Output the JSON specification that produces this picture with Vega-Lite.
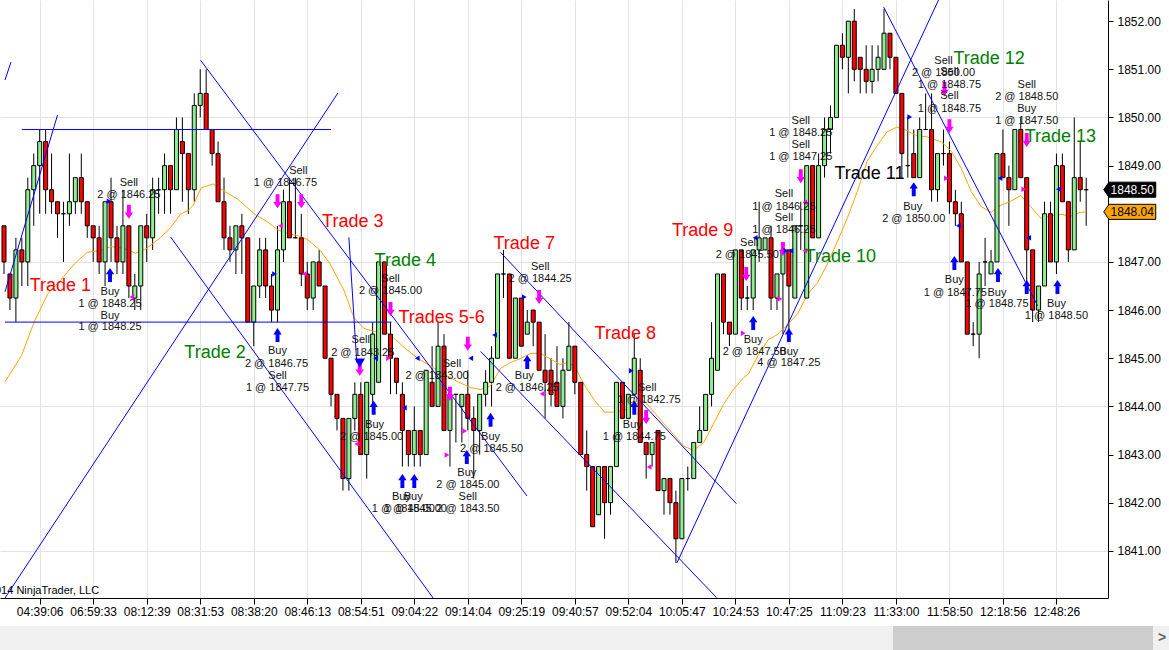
{
"$schema":"https://vega.github.io/schema/vega-lite/v6.json",
"padding":0,
"spacing":9,
"background":"white",
"config":{"view":{"stroke":null},"font":"Liberation Sans"},
"datasets":{
"candles":[
{"i":0,"o":1847.75,"h":1847.75,"l":1846.75,"c":1847},
{"i":1,"o":1846.75,"h":1846.75,"l":1846,"c":1846.25},
{"i":2,"o":1846.25,"h":1847.5,"l":1845.75,"c":1847.25},
{"i":3,"o":1847.25,"h":1847.5,"l":1846.5,"c":1847},
{"i":4,"o":1847,"h":1848.75,"l":1846.5,"c":1848.5},
{"i":5,"o":1848.5,"h":1849.25,"l":1847.75,"c":1849},
{"i":6,"o":1849,"h":1849.75,"l":1848,"c":1849.5},
{"i":7,"o":1849.5,"h":1849.75,"l":1848,"c":1848.5},
{"i":8,"o":1848.5,"h":1849.25,"l":1848,"c":1848.25},
{"i":9,"o":1848.25,"h":1848.25,"l":1847.5,"c":1848},
{"i":10,"o":1848,"h":1848.25,"l":1847,"c":1848},
{"i":11,"o":1848,"h":1849.25,"l":1847.75,"c":1848.25},
{"i":12,"o":1848.25,"h":1848.75,"l":1848,"c":1848.75},
{"i":13,"o":1848.75,"h":1849.25,"l":1848,"c":1848.25},
{"i":14,"o":1848.25,"h":1848.25,"l":1847.5,"c":1847.75},
{"i":15,"o":1847.75,"h":1847.75,"l":1847,"c":1847.5},
{"i":16,"o":1847.5,"h":1847.75,"l":1846.75,"c":1847},
{"i":17,"o":1847,"h":1848.25,"l":1846.5,"c":1848.25},
{"i":18,"o":1848.25,"h":1848.75,"l":1847,"c":1847.5},
{"i":19,"o":1847.5,"h":1847.75,"l":1846.75,"c":1847},
{"i":20,"o":1847,"h":1848.5,"l":1846.75,"c":1847.75},
{"i":21,"o":1847.75,"h":1847.75,"l":1846.25,"c":1846.5},
{"i":22,"o":1846.25,"h":1846.75,"l":1846,"c":1846.5},
{"i":23,"o":1846.5,"h":1847.75,"l":1846,"c":1847.75},
{"i":24,"o":1847.75,"h":1848,"l":1847,"c":1847.5},
{"i":25,"o":1847.5,"h":1848.75,"l":1847.25,"c":1848.5},
{"i":26,"o":1848.5,"h":1848.75,"l":1848,"c":1848.5},
{"i":27,"o":1848.5,"h":1849.25,"l":1848,"c":1849},
{"i":28,"o":1849,"h":1849,"l":1848,"c":1848.5},
{"i":29,"o":1848.5,"h":1850,"l":1848.5,"c":1849.75},
{"i":30,"o":1849.5,"h":1850,"l":1848.25,"c":1849.25},
{"i":31,"o":1849.25,"h":1849.25,"l":1848,"c":1848.5},
{"i":32,"o":1848.5,"h":1850.5,"l":1848.25,"c":1850.25},
{"i":33,"o":1850.25,"h":1851,"l":1850,"c":1850.5},
{"i":34,"o":1850.5,"h":1851,"l":1849.75,"c":1849.75},
{"i":35,"o":1849.75,"h":1849.75,"l":1849,"c":1849.25},
{"i":36,"o":1849.25,"h":1849.5,"l":1848.25,"c":1848.25},
{"i":37,"o":1848.25,"h":1848.75,"l":1847.25,"c":1847.5},
{"i":38,"o":1847.5,"h":1847.75,"l":1847,"c":1847.25},
{"i":39,"o":1847.25,"h":1847.75,"l":1846.75,"c":1847.75},
{"i":40,"o":1847.75,"h":1848,"l":1846.75,"c":1847.5},
{"i":41,"o":1847.5,"h":1847.5,"l":1845.75,"c":1845.75},
{"i":42,"o":1845.75,"h":1846.5,"l":1845.25,"c":1846.5},
{"i":43,"o":1846.5,"h":1847.5,"l":1846.25,"c":1847.25},
{"i":44,"o":1847.25,"h":1847.5,"l":1846.25,"c":1846.5},
{"i":45,"o":1846.5,"h":1846.75,"l":1845.75,"c":1846},
{"i":46,"o":1846,"h":1847.75,"l":1845.75,"c":1847.25},
{"i":47,"o":1847.25,"h":1848.5,"l":1847,"c":1848.25},
{"i":48,"o":1848.25,"h":1848.75,"l":1847.5,"c":1847.5},
{"i":49,"o":1847.5,"h":1848.75,"l":1847.5,"c":1847.5},
{"i":50,"o":1847.5,"h":1848,"l":1846.5,"c":1846.75},
{"i":51,"o":1846.75,"h":1847,"l":1846,"c":1846.25},
{"i":52,"o":1846.25,"h":1847,"l":1846,"c":1847},
{"i":53,"o":1847,"h":1847.25,"l":1846.5,"c":1846.5},
{"i":54,"o":1846.5,"h":1846.5,"l":1845,"c":1845},
{"i":55,"o":1845,"h":1845,"l":1844,"c":1844.25},
{"i":56,"o":1844.25,"h":1844.25,"l":1843.5,"c":1843.75},
{"i":57,"o":1843.75,"h":1843.75,"l":1842.25,"c":1842.5},
{"i":58,"o":1842.5,"h":1843.75,"l":1842.25,"c":1843.75},
{"i":59,"o":1843.75,"h":1844.5,"l":1843.5,"c":1844.25},
{"i":60,"o":1844.25,"h":1844.5,"l":1843,"c":1843},
{"i":61,"o":1843,"h":1844.5,"l":1842.5,"c":1844.5},
{"i":62,"o":1844.25,"h":1845.75,"l":1844,"c":1845.5},
{"i":63,"o":1844.5,"h":1847,"l":1844.5,"c":1847},
{"i":64,"o":1847,"h":1847,"l":1845.5,"c":1845.5},
{"i":65,"o":1845.5,"h":1845.75,"l":1844.25,"c":1845},
{"i":66,"o":1845,"h":1845,"l":1844.25,"c":1844.5},
{"i":67,"o":1844.25,"h":1844.5,"l":1842.75,"c":1843.5},
{"i":68,"o":1843.5,"h":1843.5,"l":1842.75,"c":1843},
{"i":69,"o":1843,"h":1844,"l":1842.75,"c":1843.5},
{"i":70,"o":1843.5,"h":1843.5,"l":1842.75,"c":1843},
{"i":71,"o":1843,"h":1844.75,"l":1843,"c":1844.75},
{"i":72,"o":1844.5,"h":1845.25,"l":1844,"c":1844},
{"i":73,"o":1844,"h":1845.75,"l":1844,"c":1845.25},
{"i":74,"o":1845.25,"h":1845.5,"l":1843.5,"c":1843.5},
{"i":75,"o":1843.5,"h":1844.25,"l":1842.75,"c":1844.25},
{"i":76,"o":1844.25,"h":1844.25,"l":1843.25,"c":1844.25},
{"i":77,"o":1844,"h":1844.25,"l":1843.25,"c":1844.25},
{"i":78,"o":1844.25,"h":1844.75,"l":1843.5,"c":1843.75},
{"i":79,"o":1843.75,"h":1844,"l":1842.5,"c":1843.5},
{"i":80,"o":1843.5,"h":1844.25,"l":1843,"c":1844.25},
{"i":81,"o":1844.25,"h":1844.75,"l":1844,"c":1844.5},
{"i":82,"o":1844.5,"h":1845.25,"l":1844,"c":1845},
{"i":83,"o":1845,"h":1846.75,"l":1845,"c":1846.75},
{"i":84,"o":1846.75,"h":1847.25,"l":1846.25,"c":1846.75},
{"i":85,"o":1846.75,"h":1846.75,"l":1845,"c":1845},
{"i":86,"o":1845,"h":1846.25,"l":1845,"c":1846.25},
{"i":87,"o":1846.25,"h":1846.25,"l":1845.25,"c":1845.25},
{"i":88,"o":1845.5,"h":1846,"l":1845.5,"c":1845.75},
{"i":89,"o":1846,"h":1846,"l":1845.25,"c":1845.75},
{"i":90,"o":1845.75,"h":1845.75,"l":1844.75,"c":1844.75},
{"i":91,"o":1844.75,"h":1845.5,"l":1843.75,"c":1844.5},
{"i":92,"o":1844.75,"h":1845,"l":1844,"c":1844.25},
{"i":93,"o":1844.5,"h":1845.25,"l":1844,"c":1844},
{"i":94,"o":1844,"h":1845,"l":1843.75,"c":1844.75},
{"i":95,"o":1844.75,"h":1845.75,"l":1844.75,"c":1845.25},
{"i":96,"o":1845.25,"h":1845.25,"l":1844.25,"c":1844.5},
{"i":97,"o":1844.5,"h":1844.5,"l":1843,"c":1843},
{"i":98,"o":1843,"h":1843.5,"l":1842.25,"c":1842.75},
{"i":99,"o":1842.75,"h":1842.75,"l":1841.5,"c":1841.5},
{"i":100,"o":1841.75,"h":1842.75,"l":1841.75,"c":1842.75},
{"i":101,"o":1842.75,"h":1842.75,"l":1841.25,"c":1842},
{"i":102,"o":1842,"h":1842.75,"l":1841.75,"c":1842.75},
{"i":103,"o":1842.75,"h":1844.5,"l":1842.75,"c":1844.5},
{"i":104,"o":1844.5,"h":1844.5,"l":1843.75,"c":1843.75},
{"i":105,"o":1843.75,"h":1844.25,"l":1843.75,"c":1844.25},
{"i":106,"o":1844.25,"h":1845.5,"l":1844.25,"c":1845},
{"i":107,"o":1844.75,"h":1845,"l":1843.25,"c":1843.25},
{"i":108,"o":1843.25,"h":1843.25,"l":1842.5,"c":1843},
{"i":109,"o":1843,"h":1843.25,"l":1842.75,"c":1843.25},
{"i":110,"o":1843.5,"h":1843.5,"l":1842.25,"c":1842.25},
{"i":111,"o":1842.25,"h":1842.5,"l":1841.75,"c":1842.5},
{"i":112,"o":1842.5,"h":1842.5,"l":1841.75,"c":1842},
{"i":113,"o":1842,"h":1842.25,"l":1840.75,"c":1841.25},
{"i":114,"o":1841.25,"h":1842.5,"l":1841.25,"c":1842.5},
{"i":115,"o":1842.5,"h":1842.75,"l":1842.25,"c":1842.5},
{"i":116,"o":1842.5,"h":1843.25,"l":1842.5,"c":1843.25},
{"i":117,"o":1843.25,"h":1844,"l":1843.25,"c":1843.5},
{"i":118,"o":1843.5,"h":1844.25,"l":1843.5,"c":1844.25},
{"i":119,"o":1844.25,"h":1845.75,"l":1844,"c":1845},
{"i":120,"o":1844.75,"h":1846.75,"l":1844.75,"c":1846.75},
{"i":121,"o":1846.75,"h":1846.75,"l":1845.5,"c":1845.75},
{"i":122,"o":1845.75,"h":1845.75,"l":1845.25,"c":1845.5},
{"i":123,"o":1845.5,"h":1847.25,"l":1845.5,"c":1847.25},
{"i":124,"o":1847.25,"h":1847.25,"l":1846,"c":1846.25},
{"i":125,"o":1846.25,"h":1846.5,"l":1846,"c":1846.25},
{"i":126,"o":1846.25,"h":1847.25,"l":1846,"c":1847.25},
{"i":127,"o":1847.25,"h":1848.25,"l":1847,"c":1847.5},
{"i":128,"o":1847.25,"h":1847.5,"l":1847.25,"c":1847.5},
{"i":129,"o":1847.5,"h":1847.75,"l":1846,"c":1846.25},
{"i":130,"o":1846.25,"h":1846.75,"l":1846,"c":1846.75},
{"i":131,"o":1846.75,"h":1847.25,"l":1845.5,"c":1847.25},
{"i":132,"o":1847.25,"h":1847.25,"l":1845.5,"c":1846.5},
{"i":133,"o":1846.25,"h":1847.75,"l":1846.25,"c":1847.75},
{"i":134,"o":1847.75,"h":1848.25,"l":1847.25,"c":1847.75},
{"i":135,"o":1846.25,"h":1849,"l":1846.25,"c":1849},
{"i":136,"o":1849,"h":1849,"l":1847.5,"c":1847.5},
{"i":137,"o":1847.5,"h":1849.25,"l":1847.5,"c":1849},
{"i":138,"o":1849,"h":1850,"l":1848.75,"c":1849.75},
{"i":139,"o":1849.75,"h":1850.25,"l":1849.25,"c":1850},
{"i":140,"o":1850,"h":1851.5,"l":1850,"c":1851.5},
{"i":141,"o":1851.5,"h":1851.75,"l":1851,"c":1851.25},
{"i":142,"o":1851.25,"h":1852,"l":1850.5,"c":1852},
{"i":143,"o":1852,"h":1852.25,"l":1850.75,"c":1851},
{"i":144,"o":1851.25,"h":1851.25,"l":1850.5,"c":1851},
{"i":145,"o":1851,"h":1851.5,"l":1850.5,"c":1850.75},
{"i":146,"o":1850.75,"h":1851.5,"l":1850.5,"c":1851},
{"i":147,"o":1851,"h":1851.5,"l":1850.75,"c":1851.25},
{"i":148,"o":1851,"h":1852.25,"l":1851,"c":1851.75},
{"i":149,"o":1851.75,"h":1851.75,"l":1851,"c":1851.25},
{"i":150,"o":1851.25,"h":1851.25,"l":1850.5,"c":1850.5},
{"i":151,"o":1850.5,"h":1850.5,"l":1848.75,"c":1849.25},
{"i":152,"o":1849,"h":1850,"l":1848.75,"c":1849},
{"i":153,"o":1849.25,"h":1849.75,"l":1848.75,"c":1848.75},
{"i":154,"o":1848.75,"h":1850,"l":1848.75,"c":1849.75},
{"i":155,"o":1849.75,"h":1850.5,"l":1849.75,"c":1849.75},
{"i":156,"o":1849.75,"h":1850.5,"l":1848.25,"c":1848.5},
{"i":157,"o":1848.5,"h":1849.25,"l":1848.25,"c":1849.25},
{"i":158,"o":1849.25,"h":1849.75,"l":1849,"c":1849.25},
{"i":159,"o":1849.25,"h":1849.5,"l":1848,"c":1848.25},
{"i":160,"o":1848.25,"h":1848.5,"l":1847.75,"c":1848},
{"i":161,"o":1848,"h":1848.25,"l":1847,"c":1847},
{"i":162,"o":1847,"h":1847,"l":1845.5,"c":1845.5},
{"i":163,"o":1845.5,"h":1845.75,"l":1845.25,"c":1845.5},
{"i":164,"o":1845.5,"h":1847,"l":1845,"c":1846.75},
{"i":165,"o":1847,"h":1847.5,"l":1846.5,"c":1847},
{"i":166,"o":1846.75,"h":1847.25,"l":1846.75,"c":1847},
{"i":167,"o":1847,"h":1849.25,"l":1847,"c":1849.25},
{"i":168,"o":1849.25,"h":1849.75,"l":1848.75,"c":1848.75},
{"i":169,"o":1848.75,"h":1849,"l":1847.75,"c":1848.5},
{"i":170,"o":1848.5,"h":1849.75,"l":1848.5,"c":1849.75},
{"i":171,"o":1849.75,"h":1850,"l":1848.75,"c":1848.75},
{"i":172,"o":1848.75,"h":1848.75,"l":1846.5,"c":1847.25},
{"i":173,"o":1847.25,"h":1847.25,"l":1845.75,"c":1846},
{"i":174,"o":1846,"h":1846.5,"l":1845.75,"c":1846.5},
{"i":175,"o":1846.5,"h":1848.25,"l":1846.5,"c":1848},
{"i":176,"o":1848,"h":1848.25,"l":1847,"c":1847},
{"i":177,"o":1847,"h":1849.25,"l":1846.75,"c":1849},
{"i":178,"o":1849,"h":1849.25,"l":1848.25,"c":1848.25},
{"i":179,"o":1848.25,"h":1848.25,"l":1847,"c":1847.25},
{"i":180,"o":1847.25,"h":1850,"l":1847.25,"c":1848.75},
{"i":181,"o":1848.75,"h":1849.5,"l":1848.25,"c":1848.5},
{"i":182,"o":1848.5,"h":1848.75,"l":1847.75,"c":1848.5}
],
"ma":[
{"i":0.17,"m":1844.51},{"i":2.95,"m":1845.06},{"i":5.17,"m":1845.78},{"i":7.33,"m":1846.33},{"i":9.67,"m":1846.64},{"i":11.83,"m":1846.96},{"i":14,"m":1847.2},{"i":16.33,"m":1847.24},{"i":18,"m":1847.32},{"i":20.17,"m":1847.28},{"i":22.17,"m":1847.18},{"i":24,"m":1847.28},{"i":26.33,"m":1847.51},{"i":28,"m":1847.71},{"i":29.67,"m":1847.99},{"i":31,"m":1848.07},{"i":31.83,"m":1848.18},{"i":33.17,"m":1848.54},{"i":35.17,"m":1848.62},{"i":37.17,"m":1848.46},{"i":39.33,"m":1848.3},{"i":42.17,"m":1847.99},{"i":44.33,"m":1847.83},{"i":46,"m":1847.67},{"i":47.67,"m":1847.59},{"i":49.33,"m":1847.55},{"i":51,"m":1847.47},{"i":53.17,"m":1847.24},{"i":54.83,"m":1846.96},{"i":57.17,"m":1846.41},{"i":58.83,"m":1845.85},{"i":60.5,"m":1845.62},{"i":62.67,"m":1845.54},{"i":63.5,"m":1845.62},{"i":65.17,"m":1845.46},{"i":67.33,"m":1845.22},{"i":69.67,"m":1844.99},{"i":71.83,"m":1844.83},{"i":74,"m":1844.67},{"i":76.33,"m":1844.51},{"i":78.5,"m":1844.39},{"i":80.17,"m":1844.35},{"i":81.83,"m":1844.43},{"i":83.5,"m":1844.79},{"i":85.17,"m":1844.91},{"i":86.83,"m":1844.99},{"i":88.5,"m":1845.1},{"i":90.17,"m":1845.1},{"i":91.83,"m":1844.99},{"i":93.5,"m":1844.87},{"i":94.83,"m":1844.91},{"i":96,"m":1844.83},{"i":97.67,"m":1844.43},{"i":99.33,"m":1844.12},{"i":101,"m":1843.88},{"i":102.67,"m":1843.88},{"i":104.33,"m":1843.92},{"i":106,"m":1844.04},{"i":107.67,"m":1844.12},{"i":109.33,"m":1843.88},{"i":111,"m":1843.64},{"i":112.67,"m":1843.41},{"i":114.33,"m":1843.17},{"i":116,"m":1843.09},{"i":117.67,"m":1843.25},{"i":119.33,"m":1843.64},{"i":121,"m":1844.04},{"i":122.67,"m":1844.35},{"i":124.33,"m":1844.59},{"i":125.17,"m":1844.67},{"i":126.83,"m":1845.06},{"i":128.5,"m":1845.38},{"i":130.17,"m":1845.5},{"i":131.83,"m":1845.7},{"i":133.5,"m":1845.93},{"i":135.17,"m":1846.33},{"i":136.83,"m":1846.57},{"i":138.5,"m":1846.96},{"i":140.17,"m":1847.43},{"i":141.83,"m":1847.91},{"i":143.5,"m":1848.46},{"i":145.17,"m":1849.09},{"i":146.83,"m":1849.41},{"i":148.5,"m":1849.7},{"i":150.17,"m":1849.8},{"i":151.83,"m":1849.73},{"i":153.5,"m":1849.62},{"i":155.17,"m":1849.6},{"i":157.67,"m":1849.49},{"i":159.33,"m":1849.3},{"i":161,"m":1848.94},{"i":162.67,"m":1848.46},{"i":164.33,"m":1848.15},{"i":166,"m":1848.03},{"i":167.67,"m":1848.18},{"i":169.33,"m":1848.26},{"i":171,"m":1848.38},{"i":172.67,"m":1848.15},{"i":174.33,"m":1847.91},{"i":176,"m":1847.95},{"i":177.67,"m":1847.99},{"i":179.33,"m":1847.95},{"i":181,"m":1848.03},{"i":182,"m":1848.04}
],
"lines":[
{"i1":0.17,"p1":1850.78,"i2":1.17,"p2":1851.15},
{"i1":0.17,"p1":1846.38,"i2":9.0,"p2":1850.05},
{"i1":3.0,"p1":1849.75,"i2":55.0,"p2":1849.75},
{"i1":0.17,"p1":1845.75,"i2":65.17,"p2":1845.75},
{"i1":0.17,"p1":1840.02,"i2":56.17,"p2":1850.51},
{"i1":33.05,"p1":1851.19,"i2":87.95,"p2":1842.14},
{"i1":28.0,"p1":1847.52,"i2":72.17,"p2":1840.02},
{"i1":58.0,"p1":1847.51,"i2":59.33,"p2":1844.91},
{"i1":80.17,"p1":1845.14,"i2":119.83,"p2":1840.03},
{"i1":83.5,"p1":1847.2,"i2":123.17,"p2":1841.98},
{"i1":113.17,"p1":1840.75,"i2":157.17,"p2":1852.44},
{"i1":147.95,"p1":1852.29,"i2":173.83,"p2":1846.09}
],
"buys":[
{"i":17.83,"p":1846.73},{"i":46.0,"p":1845.48},{"i":62.17,"p":1843.97},{"i":67.0,"p":1842.45},{"i":69.0,"p":1842.45},{"i":77.83,"p":1842.95},{"i":81.83,"p":1843.72},{"i":88.0,"p":1844.92},{"i":106.0,"p":1843.97},{"i":126.0,"p":1845.73},{"i":132.0,"p":1845.48},{"i":153.0,"p":1848.51},{"i":159.83,"p":1846.98},{"i":167.17,"p":1846.73},{"i":172.0,"p":1846.48},{"i":177.17,"p":1846.48}
],
"sells":[
{"i":21.0,"p":1848.04},{"i":46.0,"p":1848.26},{"i":50.0,"p":1848.26},{"i":59.83,"p":1844.78},{"i":65.0,"p":1846.02},{"i":75.0,"p":1844.26},{"i":78.0,"p":1845.3},{"i":90.0,"p":1846.27},{"i":108.0,"p":1843.78},{"i":124.83,"p":1846.75},{"i":131.0,"p":1847.27},{"i":134.0,"p":1848.78},{"i":158.17,"p":1850.59},{"i":159.0,"p":1849.82},{"i":172.0,"p":1849.53}
],
"tris":[
{"i":17.67,"p":1848.26,"s":"triangle-right","col":"#0000ff","sz":30},
{"i":21.5,"p":1846.27,"s":"triangle-left","col":"#ff00ff","sz":30},
{"i":46.5,"p":1847.75,"s":"triangle-left","col":"#ff00ff","sz":30},
{"i":45.5,"p":1846.75,"s":"triangle-right","col":"#0000ff","sz":30},
{"i":50.5,"p":1846.75,"s":"triangle-left","col":"#ff00ff","sz":30},
{"i":59.33,"p":1843.22,"s":"triangle-left","col":"#ff00ff","sz":30},
{"i":59.83,"p":1844.9,"s":"triangle-down","col":"#0000ff","sz":110},
{"i":62.5,"p":1845.0,"s":"triangle-left","col":"#0000ff","sz":30},
{"i":64.67,"p":1845.0,"s":"triangle-right","col":"#ff00ff","sz":30},
{"i":69.5,"p":1845.0,"s":"triangle-left","col":"#0000ff","sz":30},
{"i":67.33,"p":1843.97,"s":"triangle-left","col":"#0000ff","sz":30},
{"i":74.5,"p":1842.99,"s":"triangle-right","col":"#ff00ff","sz":30},
{"i":77.5,"p":1843.49,"s":"triangle-right","col":"#ff00ff","sz":30},
{"i":78.5,"p":1845.0,"s":"triangle-left","col":"#0000ff","sz":30},
{"i":82.5,"p":1845.48,"s":"triangle-left","col":"#0000ff","sz":30},
{"i":87.5,"p":1846.27,"s":"triangle-right","col":"#0000ff","sz":30},
{"i":90.5,"p":1844.26,"s":"triangle-left","col":"#ff00ff","sz":30},
{"i":105.5,"p":1844.74,"s":"triangle-right","col":"#0000ff","sz":30},
{"i":108.5,"p":1842.74,"s":"triangle-left","col":"#ff00ff","sz":30},
{"i":124.33,"p":1845.52,"s":"triangle-right","col":"#ff00ff","sz":30},
{"i":126.33,"p":1847.5,"s":"triangle-left","col":"#0000ff","sz":30},
{"i":130.5,"p":1846.23,"s":"triangle-right","col":"#ff00ff","sz":30},
{"i":131.5,"p":1847.23,"s":"triangle-right","col":"#0000ff","sz":30},
{"i":132.33,"p":1847.23,"s":"triangle-left","col":"#0000ff","sz":30},
{"i":134.67,"p":1847.23,"s":"triangle-left","col":"#ff00ff","sz":30},
{"i":134.67,"p":1848.24,"s":"triangle-left","col":"#ff00ff","sz":30},
{"i":152.33,"p":1850.01,"s":"triangle-right","col":"#0000ff","sz":30},
{"i":158.5,"p":1848.74,"s":"triangle-right","col":"#ff00ff","sz":30},
{"i":160.5,"p":1847.75,"s":"triangle-left","col":"#0000ff","sz":30},
{"i":167.5,"p":1848.74,"s":"triangle-left","col":"#0000ff","sz":30},
{"i":171.5,"p":1848.51,"s":"triangle-right","col":"#ff00ff","sz":30},
{"i":172.33,"p":1847.5,"s":"triangle-left","col":"#0000ff","sz":30},
{"i":177.33,"p":1848.51,"s":"triangle-left","col":"#0000ff","sz":30}
],
"notes":[
{"i":21.0,"p":1848.64,"t":"Sell"},{"i":21.0,"p":1848.39,"t":"2 @ 1846.25"},
{"i":17.83,"p":1846.38,"t":"Buy"},{"i":17.83,"p":1846.13,"t":"1 @ 1848.25"},
{"i":17.83,"p":1845.88,"t":"Buy"},{"i":17.83,"p":1845.65,"t":"1 @ 1848.25"},
{"i":49.5,"p":1848.89,"t":"Sell"},{"i":47.33,"p":1848.64,"t":"1 @ 1846.75"},
{"i":46.0,"p":1845.15,"t":"Buy"},{"i":45.83,"p":1844.88,"t":"2 @ 1846.75"},
{"i":46.0,"p":1844.63,"t":"Sell"},{"i":46.0,"p":1844.38,"t":"1 @ 1847.75"},
{"i":65.0,"p":1846.65,"t":"Sell"},{"i":65.0,"p":1846.4,"t":"2 @ 1845.00"},
{"i":60.0,"p":1845.38,"t":"Sell"},{"i":60.33,"p":1845.11,"t":"2 @ 1843.25"},
{"i":62.33,"p":1843.61,"t":"Buy"},{"i":61.83,"p":1843.37,"t":"2 @ 1845.00"},
{"i":75.33,"p":1844.88,"t":"Sell"},{"i":72.83,"p":1844.63,"t":"2 @ 1843.00"},
{"i":66.83,"p":1842.12,"t":"Buy"},{"i":68.83,"p":1842.12,"t":"Buy"},
{"i":67.17,"p":1841.87,"t":"1 @ 1845.00"},{"i":69.17,"p":1841.87,"t":"1 @ 1845.00"},
{"i":78.0,"p":1842.12,"t":"Sell"},{"i":78.0,"p":1841.87,"t":"2 @ 1843.50"},
{"i":77.83,"p":1842.62,"t":"Buy"},{"i":78.0,"p":1842.37,"t":"2 @ 1845.00"},
{"i":81.83,"p":1843.37,"t":"Buy"},{"i":82.0,"p":1843.12,"t":"2 @ 1845.50"},
{"i":87.5,"p":1844.63,"t":"Buy"},{"i":88.0,"p":1844.38,"t":"2 @ 1846.25"},
{"i":90.17,"p":1846.89,"t":"Sell"},{"i":90.17,"p":1846.65,"t":"2 @ 1844.25"},
{"i":108.17,"p":1844.38,"t":"Sell"},{"i":108.5,"p":1844.13,"t":"1 @ 1842.75"},
{"i":105.67,"p":1843.61,"t":"Buy"},{"i":106.0,"p":1843.37,"t":"1 @ 1844.75"},
{"i":125.33,"p":1847.39,"t":"Sell"},{"i":125.0,"p":1847.14,"t":"2 @ 1845.50"},
{"i":126.0,"p":1845.38,"t":"Buy"},{"i":126.17,"p":1845.13,"t":"2 @ 1847.50"},
{"i":132.0,"p":1845.13,"t":"Buy"},{"i":132.0,"p":1844.9,"t":"4 @ 1847.25"},
{"i":131.17,"p":1848.41,"t":"Sell"},{"i":131.17,"p":1848.14,"t":"1 @ 1846.25"},
{"i":131.17,"p":1847.91,"t":"Sell"},{"i":131.17,"p":1847.66,"t":"1 @ 1846.25"},
{"i":134.0,"p":1849.92,"t":"Sell"},{"i":134.0,"p":1849.68,"t":"1 @ 1848.25"},
{"i":134.0,"p":1849.43,"t":"Sell"},{"i":134.0,"p":1849.18,"t":"1 @ 1847.25"},
{"i":152.83,"p":1848.14,"t":"Buy"},{"i":153.0,"p":1847.89,"t":"2 @ 1850.00"},
{"i":158.0,"p":1851.17,"t":"Sell"},{"i":158.0,"p":1850.92,"t":"2 @ 1850.00"},
{"i":159.0,"p":1850.94,"t":"Sell"},{"i":159.0,"p":1850.67,"t":"1 @ 1848.75"},
{"i":159.0,"p":1850.44,"t":"Sell"},{"i":159.0,"p":1850.17,"t":"1 @ 1848.75"},
{"i":172.0,"p":1850.67,"t":"Sell"},{"i":172.0,"p":1850.42,"t":"2 @ 1848.50"},
{"i":172.0,"p":1850.17,"t":"Buy"},{"i":172.0,"p":1849.92,"t":"1 @ 1847.50"},
{"i":159.83,"p":1846.62,"t":"Buy"},{"i":160.0,"p":1846.35,"t":"1 @ 1847.75"},
{"i":167.0,"p":1846.35,"t":"Buy"},{"i":167.0,"p":1846.13,"t":"1 @ 1848.75"},
{"i":177.0,"p":1846.13,"t":"Buy"},{"i":177.0,"p":1845.88,"t":"1 @ 1848.50"}
],
"trades":[
{"i":4.33,"p":1846.5,"t":"Trade 1","col":"#ff0000"},
{"i":30.33,"p":1845.11,"t":"Trade 2","col":"#008000"},
{"i":53.5,"p":1847.83,"t":"Trade 3","col":"#ff0000"},
{"i":62.33,"p":1847.02,"t":"Trade 4","col":"#008000"},
{"i":66.33,"p":1845.84,"t":"Trades 5-6","col":"#ff0000"},
{"i":82.33,"p":1847.37,"t":"Trade 7","col":"#ff0000"},
{"i":99.33,"p":1845.5,"t":"Trade 8","col":"#ff0000"},
{"i":112.33,"p":1847.64,"t":"Trade 9","col":"#ff0000"},
{"i":134.67,"p":1847.1,"t":"Trade 10","col":"#008000"},
{"i":139.67,"p":1848.82,"t":"Trade 11","col":"#000000"},
{"i":159.67,"p":1851.21,"t":"Trade 12","col":"#008000"},
{"i":171.67,"p":1849.59,"t":"Trade 13","col":"#008000"}
],
"copy":[{"i":16.0,"p":1840.17,"t":"© 2014 NinjaTrader, LLC"}],
"flags":[
{"i":189.33,"ti":189.75,"p":1848.5,"bg":"#000000","fg":"#ffffff","t":"1848.50"},
{"i":189.33,"ti":189.75,"p":1848.04,"bg":"#ffa500","fg":"#000000","t":"1848.04"}
],
"scroll":[{"a":0,"b":1169,"k":"t"},{"a":893,"b":1153,"k":"h"}],
"scrollarrow":[{"a":1162,"t":">"}]
},
"vconcat":[
{"width":1108,"height":598,
"layer":[
{"data":{"name":"candles"},"mark":{"type":"rule","color":"black","strokeWidth":1,"clip":true},
"encoding":{
"x":{"field":"i","type":"quantitative","scale":{"domain":[0.167,184.83],"nice":false,"zero":false},
"axis":{"orient":"bottom","values":[6,15,24,33,42,51,60,69,78,87,96,105,114,123,132,141,150,159,168,177],
"labelExpr":"['04:39:06','06:59:33','08:12:39','08:31:53','08:38:20','08:46:13','08:54:51','09:04:22','09:14:04','09:25:19','09:40:57','09:52:04','10:05:47','10:24:53','10:47:25','11:09:23','11:33:00','11:58:50','12:18:56','12:48:26'][round((datum.value-6)/9)]",
"grid":true,"gridColor":"#e3e3e3","tickColor":"black","tickSize":6,"domainColor":"black","labelFont":"Liberation Sans","labelFontSize":12,"labelColor":"black","labelPadding":2,"title":null,"labelFlush":false,"labelOverlap":false}},
"y":{"field":"l","type":"quantitative","scale":{"domain":[1840.02,1852.44],"nice":false,"zero":false},
"axis":{"orient":"right","values":[1841,1842,1843,1844,1845,1846,1847,1849,1850,1851,1852],"format":".2f","grid":true,"gridColor":"#e3e3e3",
"gridOpacity":{"condition":{"test":"datum.value % 3 == 2","value":1},"value":0},
"tickColor":"black","tickSize":5,"domainColor":"black","labelFont":"Liberation Sans","labelFontSize":12,"labelColor":"black","labelPadding":4,"title":null}},
"y2":{"field":"h"}}},
{"data":{"name":"ma"},"mark":{"type":"line","color":"#ffa500","strokeWidth":1,"clip":true},
"encoding":{
"x":{"field":"i","type":"quantitative","scale":{"domain":[0.167,184.83],"nice":false,"zero":false},"axis":{"title":null}},
"y":{"field":"m","type":"quantitative","scale":{"domain":[1840.02,1852.44],"nice":false,"zero":false},"axis":{"orient":"right","title":null}}}},
{"data":{"name":"candles"},"mark":{"type":"bar","size":4,"stroke":"black","strokeWidth":1,"clip":true},
"encoding":{
"x":{"field":"i","type":"quantitative","scale":{"domain":[0.167,184.83],"nice":false,"zero":false},"axis":{"title":null}},
"y":{"field":"o","type":"quantitative","scale":{"domain":[1840.02,1852.44],"nice":false,"zero":false},"axis":{"orient":"right","title":null}},
"y2":{"field":"c"},
"fill":{"condition":{"test":"datum.c > datum.o","value":"#90ee90"},"value":"#ff0000"}}},
{"data":{"name":"lines"},"mark":{"type":"rule","color":"#0000ff","strokeWidth":1,"clip":true},
"encoding":{
"x":{"field":"i1","type":"quantitative","scale":{"domain":[0.167,184.83],"nice":false,"zero":false},"axis":{"title":null}},
"x2":{"field":"i2"},
"y":{"field":"p1","type":"quantitative","scale":{"domain":[1840.02,1852.44],"nice":false,"zero":false},"axis":{"orient":"right","title":null}},
"y2":{"field":"p2"}}},
{"data":{"name":"buys"},"mark":{"type":"point","filled":true,"color":"#0000ff","opacity":1,"size":196,"shape":"M0,-1L0.6,-0.1L0.28,-0.1L0.28,1L-0.28,1L-0.28,-0.1L-0.6,-0.1Z","clip":true},
"encoding":{
"x":{"field":"i","type":"quantitative","scale":{"domain":[0.167,184.83],"nice":false,"zero":false},"axis":{"title":null}},
"y":{"field":"p","type":"quantitative","scale":{"domain":[1840.02,1852.44],"nice":false,"zero":false},"axis":{"orient":"right","title":null}}}},
{"data":{"name":"sells"},"mark":{"type":"point","filled":true,"color":"#ff00ff","opacity":1,"size":196,"shape":"M0,1L0.6,0.1L0.28,0.1L0.28,-1L-0.28,-1L-0.28,0.1L-0.6,0.1Z","clip":true},
"encoding":{
"x":{"field":"i","type":"quantitative","scale":{"domain":[0.167,184.83],"nice":false,"zero":false},"axis":{"title":null}},
"y":{"field":"p","type":"quantitative","scale":{"domain":[1840.02,1852.44],"nice":false,"zero":false},"axis":{"orient":"right","title":null}}}},
{"data":{"name":"tris"},"mark":{"type":"point","filled":true,"opacity":1,"clip":true},
"encoding":{
"x":{"field":"i","type":"quantitative","scale":{"domain":[0.167,184.83],"nice":false,"zero":false},"axis":{"title":null}},
"y":{"field":"p","type":"quantitative","scale":{"domain":[1840.02,1852.44],"nice":false,"zero":false},"axis":{"orient":"right","title":null}},
"shape":{"field":"s","type":"nominal","scale":null},
"color":{"field":"col","type":"nominal","scale":null},
"size":{"field":"sz","type":"quantitative","scale":null}}},
{"data":{"name":"notes"},"mark":{"type":"text","font":"Liberation Sans","fontSize":11,"color":"#111111","align":"center","baseline":"middle","clip":true},
"encoding":{
"x":{"field":"i","type":"quantitative","scale":{"domain":[0.167,184.83],"nice":false,"zero":false},"axis":{"title":null}},
"y":{"field":"p","type":"quantitative","scale":{"domain":[1840.02,1852.44],"nice":false,"zero":false},"axis":{"orient":"right","title":null}},
"text":{"field":"t"}}},
{"data":{"name":"trades"},"mark":{"type":"text","font":"Liberation Sans","fontSize":18,"align":"left","baseline":"middle","clip":true},
"encoding":{
"x":{"field":"i","type":"quantitative","scale":{"domain":[0.167,184.83],"nice":false,"zero":false},"axis":{"title":null}},
"y":{"field":"p","type":"quantitative","scale":{"domain":[1840.02,1852.44],"nice":false,"zero":false},"axis":{"orient":"right","title":null}},
"text":{"field":"t"},
"color":{"field":"col","type":"nominal","scale":null}}},
{"data":{"name":"copy"},"mark":{"type":"text","font":"Liberation Sans","fontSize":11,"color":"#000000","align":"right","baseline":"middle","clip":true},
"encoding":{
"x":{"field":"i","type":"quantitative","scale":{"domain":[0.167,184.83],"nice":false,"zero":false},"axis":{"title":null}},
"y":{"field":"p","type":"quantitative","scale":{"domain":[1840.02,1852.44],"nice":false,"zero":false},"axis":{"orient":"right","title":null}},
"text":{"field":"t"}}},
{"data":{"name":"flags"},"mark":{"type":"point","filled":true,"opacity":1,"size":2704,"stroke":"#000000","strokeWidth":1,"shape":"M-1,0L-0.8,-0.29L1,-0.29L1,0.29L-0.8,0.29Z"},
"encoding":{
"x":{"field":"i","type":"quantitative","scale":{"domain":[0.167,184.83],"nice":false,"zero":false},"axis":{"title":null}},
"y":{"field":"p","type":"quantitative","scale":{"domain":[1840.02,1852.44],"nice":false,"zero":false},"axis":{"orient":"right","title":null}},
"fill":{"field":"bg","type":"nominal","scale":null}}},
{"data":{"name":"flags"},"mark":{"type":"text","font":"Liberation Sans","fontSize":12,"align":"center","baseline":"middle"},
"encoding":{
"x":{"field":"ti","type":"quantitative","scale":{"domain":[0.167,184.83],"nice":false,"zero":false},"axis":{"title":null}},
"y":{"field":"p","type":"quantitative","scale":{"domain":[1840.02,1852.44],"nice":false,"zero":false},"axis":{"orient":"right","title":null}},
"text":{"field":"t"},
"color":{"field":"fg","type":"nominal","scale":null}}}
]},
{"width":1169,"height":24,
"layer":[
{"data":{"name":"scroll"},"mark":{"type":"rect"},
"encoding":{
"x":{"field":"a","type":"quantitative","scale":{"domain":[0,1169],"nice":false,"zero":false},"axis":null},
"x2":{"field":"b"},
"color":{"field":"k","type":"nominal","scale":{"domain":["t","h"],"range":["#f0f0f0","#cdcdcd"]},"legend":null}}},
{"data":{"name":"scrollarrow"},"mark":{"type":"text","fontSize":14,"fontWeight":"bold","color":"#606060"},
"encoding":{
"x":{"field":"a","type":"quantitative","scale":{"domain":[0,1169],"nice":false,"zero":false},"axis":null},
"text":{"field":"t"}}}
]}
]
}
